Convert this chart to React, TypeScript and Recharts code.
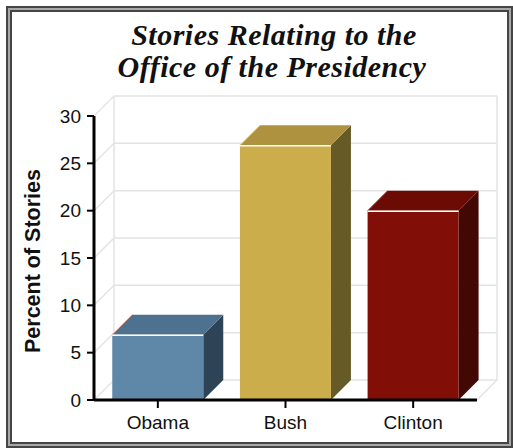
import { BarChart, Bar, XAxis, YAxis, CartesianGrid } from 'recharts'

const presidents = ['Obama', 'Bush', 'Clinton']
const percentOfStories = [6.9, 26.9, 20.0]
const yTicks = [0, 5, 10, 15, 20, 25, 30]

const data = presidents.map((name, i) => ({ name, value: percentOfStories[i] }))

// front / top / side shades for each bar
const faces = [
  { front: '#5f87a7', top: '#4e7190', side: '#2e4456', edge: '#d89a8a' },
  { front: '#ccad4c', top: '#ae9240', side: '#665a27', edge: '#e2cf94' },
  { front: '#820f07', top: '#6b0b03', side: '#410804', edge: '#b8504a' },
]

const DEPTH = 20
const GRID = '#e3e3e3'

function Bar3D(props: any) {
  const { x, y, width, height, index } = props
  const c = faces[index % faces.length]
  const d = DEPTH
  const top = `${x},${y} ${x + d},${y - d} ${x + width + d},${y - d} ${x + width},${y}`
  const side = `${x + width},${y} ${x + width + d},${y - d} ${x + width + d},${y + height - d} ${x + width},${y + height}`
  return (
    <g>
      <polygon points={side} fill={c.side} />
      <polygon points={top} fill={c.top} />
      <rect x={x} y={y} width={width} height={height} fill={c.front} />
      <line x1={x} y1={y} x2={x + d} y2={y - d} stroke={c.edge} strokeWidth={1} />
      <line x1={x} y1={y + 0.5} x2={x + width} y2={y + 0.5} stroke="#fff" strokeWidth={1.5} />
    </g>
  )
}

// back wall line + left side-wall diagonal for each y tick
const wallLine = (props: any) => {
  const { x1, y1, x2, y2, y, height, index } = props
  const isFloor = Math.abs(y1 - (y + height)) < 1
  return (
    <g key={`h-${index}`} stroke={GRID} strokeWidth={1.5}>
      <line x1={x1} y1={y1} x2={x1 + DEPTH} y2={y1 - DEPTH} />
      <line x1={x1 + DEPTH} y1={y1 - DEPTH} x2={x2 + DEPTH} y2={y2 - DEPTH} />
      {isFloor && <line x1={x2} y1={y2} x2={x2 + DEPTH} y2={y2 - DEPTH} />}
    </g>
  )
}

const wallEdge = (props: any) => {
  const { x1, y1, x2, y2, index } = props
  return (
    <line
      key={`v-${index}`}
      x1={x1 + DEPTH}
      y1={y1 - DEPTH}
      x2={x2 + DEPTH}
      y2={y2 - DEPTH}
      stroke={GRID}
      strokeWidth={1.5}
    />
  )
}

const tickFont = { fontSize: 19, fill: '#111', fontFamily: '"Liberation Sans", Arial, sans-serif' }

export default function App() {
  return (
    <div style={{ position: 'absolute', left: 0, top: 0, width: 513, height: 448, overflow: 'hidden' }}>
      <div
        style={{
          position: 'absolute',
          left: 6,
          top: 6,
          width: 507,
          height: 442,
          boxSizing: 'border-box',
          border: '2px solid #454545',
          background: '#a8a8a8',
          padding: 2,
        }}
      >
        <div style={{ width: '100%', height: '100%', boxSizing: 'border-box', border: '2px solid #454545', background: '#fff' }} />
      </div>
      <div style={{ position: 'absolute', left: 0, top: 0 }}>
        <BarChart
          width={513}
          height={448}
          data={data}
          margin={{ top: 116, right: 36, bottom: 18, left: 14 }}
          barCategoryGap="14.3%"
        >
          <CartesianGrid
            horizontal={wallLine}
            vertical={wallEdge}
            verticalCoordinatesGenerator={({ offset }: any) => [offset.left, offset.left + offset.width]}
          />
          <Bar dataKey="value" shape={Bar3D} isAnimationActive={false} />
          <XAxis
            dataKey="name"
            height={30}
            tick={tickFont}
            tickSize={8}
            tickMargin={8}
            axisLine={{ stroke: '#000', strokeWidth: 3 }}
            tickLine={{ stroke: '#000', strokeWidth: 2 }}
          />
          <YAxis
            type="number"
            domain={[0, 30]}
            ticks={yTicks}
            interval={0}
            width={80}
            tick={tickFont}
            tickSize={7}
            tickMargin={6}
            axisLine={{ stroke: '#000', strokeWidth: 3 }}
            tickLine={{ stroke: '#000', strokeWidth: 2 }}
          />
        </BarChart>
      </div>
      <svg width={513} height={448} style={{ position: 'absolute', left: 0, top: 0, pointerEvents: 'none' }}>
        <g
          fontFamily='"Liberation Serif", "Times New Roman", serif'
          fontStyle="italic"
          fontWeight="bold"
          fontSize={30}
          fill="#111"
          textAnchor="middle"
          letterSpacing={0.5}
        >
          <text x={274} y={45}>Stories Relating to the</text>
          <text x={272} y={77}>Office of the Presidency</text>
        </g>
        <text
          x={40}
          y={261}
          transform="rotate(-90, 40, 261)"
          textAnchor="middle"
          fontFamily='"Liberation Sans", Arial, sans-serif'
          fontWeight="bold"
          fontSize={21.5}
          fill="#111"
        >
          Percent of Stories
        </text>
      </svg>
    </div>
  )
}
